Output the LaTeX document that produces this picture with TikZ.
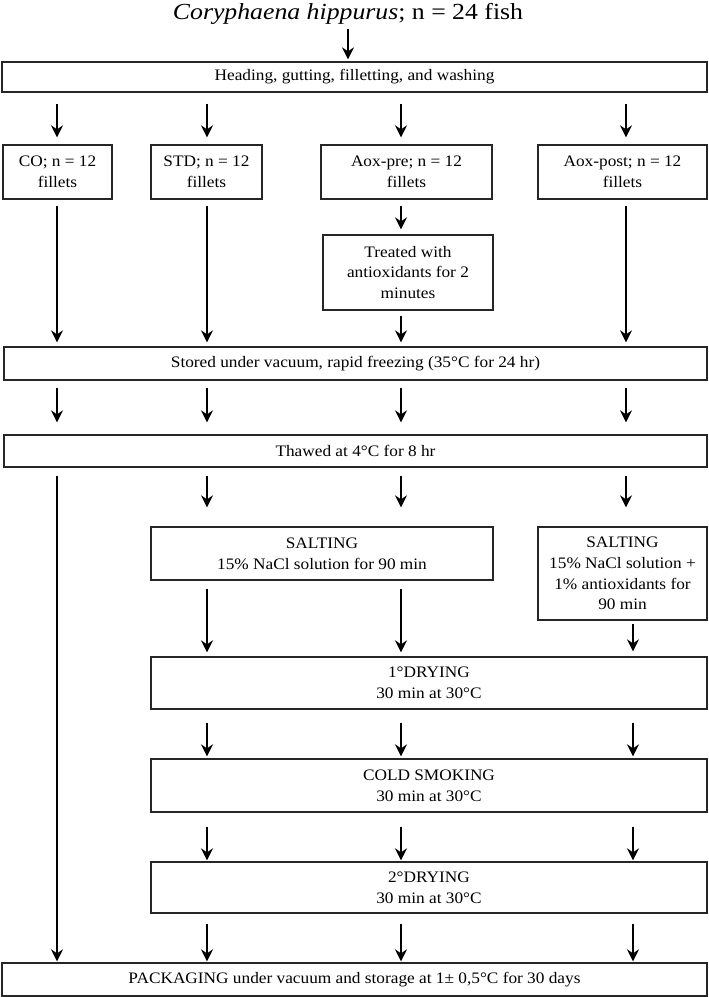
\documentclass[tikz,border=0pt]{standalone}
\usepackage{fontspec}
\setmainfont{Liberation Serif}
\newfontfamily\boxfont[FakeStretch=1.08]{Liberation Serif}
\newfontfamily\titlefont[FakeStretch=1.12]{Liberation Serif}
\usetikzlibrary{arrows.meta}
\begin{document}
\begin{tikzpicture}[x=1pt,y=-1pt,
 box/.style={draw=black!85, line width=1.3pt, align=center, inner sep=0pt, font=\boxfont\fontsize{16}{20.7}\selectfont},
 arr/.style={line width=2.2pt, -{Stealth[length=12pt,width=12pt,inset=4pt]}},
 ln/.style={line width=2.2pt}]
\useasboundingbox (0,0) rectangle (709,997);
\coordinate (c0) at (348,0);
\coordinate (c1) at (57,0);
\coordinate (c2) at (207,0);
\coordinate (c3) at (401,0);
\coordinate (c4) at (626,0);
\coordinate (c5) at (633,0);
\node[inner sep=0pt] (title) at (348,14) {\titlefont\fontsize{23}{27}\selectfont\textit{Coryphaena hippurus}; n = 24 fish};
\node[box, minimum width=705pt, minimum height=30pt] (head) at (354.5,77) {Heading, gutting, filletting, and washing};
\node[box, minimum width=109pt, minimum height=54pt] (co) at (57.5,172) {CO; n = 12\\fillets};
\node[box, minimum width=111pt, minimum height=54pt] (std) at (206.5,172) {STD; n = 12\\fillets};
\node[box, minimum width=171pt, minimum height=54pt] (aoxpre) at (406.5,172) {Aox-pre; n = 12\\fillets};
\node[box, minimum width=169pt, minimum height=54pt] (aoxpost) at (622.5,172) {Aox-post; n = 12\\fillets};
\node[box, minimum width=170pt, minimum height=75pt] (treat) at (408,272.5) {Treated with\\antioxidants for 2\\minutes};
\node[box, minimum width=703pt, minimum height=33pt] (stored) at (355.5,363.5) {Stored under vacuum, rapid freezing (35°C for 24 hr)};
\node[box, minimum width=703pt, minimum height=32pt] (thawed) at (355.5,451) {Thawed at 4°C for 8 hr};
\node[box, minimum width=342pt, minimum height=53pt] (salt1) at (322,553.5) {SALTING\\15\% NaCl solution for 90 min};
\node[box, minimum width=169pt, minimum height=93pt] (salt2) at (622.5,573.5) {SALTING\\15\% NaCl solution +\\1\% antioxidants for\\90 min};
\node[box, minimum width=556pt, minimum height=52pt] (dry1) at (429,683) {1°DRYING\\30 min at 30°C};
\node[box, minimum width=556pt, minimum height=53pt] (smoke) at (429,785.5) {COLD SMOKING\\30 min at 30°C};
\node[box, minimum width=556pt, minimum height=51pt] (dry2) at (429,887.5) {2°DRYING\\30 min at 30°C};
\node[box, minimum width=705pt, minimum height=33pt] (pack) at (354.5,979.5) {PACKAGING under vacuum and storage at 1± 0,5°C for 30 days};
% title to head
\draw[arr, shorten <=4pt, shorten >=2pt] (title.south -| c0) -- (head.north -| c0);
% head to groups
\foreach \c/\n in {c1/co, c2/std, c3/aoxpre, c4/aoxpost}
  \draw[arr, shorten <=11pt, shorten >=7pt] (head.south -| \c) -- (\n.north -| \c);
% groups to stored
\foreach \c/\n in {c1/co, c2/std, c4/aoxpost}
  \draw[arr, shorten <=6pt, shorten >=4pt] (\n.south -| \c) -- (stored.north -| \c);
\draw[arr, shorten <=6pt, shorten >=5pt] (aoxpre.south -| c3) -- (treat.north -| c3);
\draw[arr, shorten <=5pt, shorten >=4pt] (treat.south -| c3) -- (stored.north -| c3);
% stored to thawed
\foreach \c in {c1, c2, c3, c4}
  \draw[arr, shorten <=7pt, shorten >=12pt] (stored.south -| \c) -- (thawed.north -| \c);
% thawed to salting / packaging
\draw[arr, shorten <=8pt, shorten >=19pt] (thawed.south -| c2) -- (salt1.north -| c2);
\draw[arr, shorten <=8pt, shorten >=19pt] (thawed.south -| c3) -- (salt1.north -| c3);
\draw[arr, shorten <=8pt, shorten >=19pt] (thawed.south -| c4) -- (salt2.north -| c4);
\draw[arr, shorten <=8pt, shorten >=1pt] (thawed.south -| c1) -- (pack.north -| c1);
% salting to drying
\draw[arr, shorten <=8pt, shorten >=4pt] (salt1.south -| c2) -- (dry1.north -| c2);
\draw[arr, shorten <=8pt, shorten >=4pt] (salt1.south -| c3) -- (dry1.north -| c3);
\draw[arr, shorten <=3pt, shorten >=5pt] (salt2.south -| c5) -- (dry1.north -| c5);
% drying to smoking, smoking to drying, drying to packaging
\foreach \c in {c2, c3, c5} {
  \draw[arr, shorten <=13pt, shorten >=2pt] (dry1.south -| \c) -- (smoke.north -| \c);
  \draw[arr, shorten <=14pt, shorten >=1pt] (smoke.south -| \c) -- (dry2.north -| \c);
  \draw[arr, shorten <=10pt, shorten >=1pt] (dry2.south -| \c) -- (pack.north -| \c);
}
\end{tikzpicture}
\end{document}
